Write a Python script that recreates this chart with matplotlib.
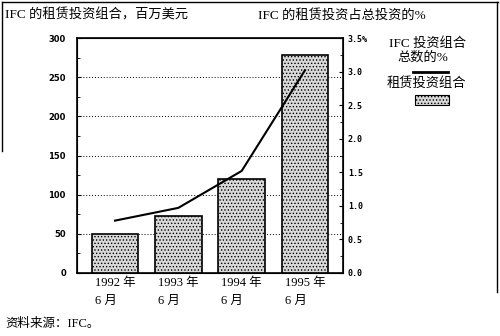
import matplotlib.pyplot as plt
import matplotlib.patches as mpatches
from matplotlib.lines import Line2D

plt.rcParams['font.family'] = ['Liberation Serif', 'Noto Sans CJK SC', 'DejaVu Sans']
plt.rcParams['hatch.linewidth'] = 0.6

# 数据
years = ['1992 年\n6 月', '1993 年\n6 月', '1994 年\n6 月', '1995 年\n6 月']
lease = [50, 73, 120, 278]          # 租赁投资组合，百万美元
share = [0.78, 0.97, 1.52, 3.02]    # 占总投资的 %
left_ticks = [0, 50, 100, 150, 200, 250, 300]
right_ticks = [0, 0.5, 1.0, 1.5, 2.0, 2.5, 3.0, 3.5]
right_labels = ['0.0', '0.5', '1.0', '1.5', '2.0', '2.5', '3.0', '3.5%']

fig = plt.figure(figsize=(5, 3.36), dpi=100)
ax = fig.add_axes([0.154, 0.1875, 0.532, 0.6994])
x = list(range(len(years)))

ax.bar(x, lease, width=0.74, color='#d9d9d9', edgecolor='black', hatch='.....', linewidth=1.2, zorder=3)
ax.set_xlim(-0.6, 3.6)
ax.set_ylim(0, 300)
ax.set_yticks(left_ticks)
ax.set_yticks(range(0, 301, 25), minor=True)
ax.tick_params(axis='y', which='both', direction='in', labelsize=6, length=3, pad=8)
ax.tick_params(axis='y', which='minor', length=2)
for lab in ax.get_yticklabels():
    lab.set_family('DejaVu Sans')
    lab.set_weight('bold')
for t in left_ticks[1:-1]:
    ax.axhline(t, color='black', lw=0.7, ls=(0, (1, 2)), zorder=1)
ax.set_xticks(x)
ax.set_xticklabels(years, fontsize=9, ha='center', multialignment='left', linespacing=1.6)
ax.tick_params(axis='x', length=0, pad=3)
for s in ax.spines.values():
    s.set_linewidth(1.2)

ax2 = ax.twinx()
ax2.plot(x, share, color='black', lw=1.5, zorder=4)
ax2.set_ylim(0, 3.5)
ax2.set_yticks(right_ticks)
ax2.set_yticklabels(right_labels)
ax2.set_yticks([i * 0.25 for i in range(15)], minor=True)
ax2.tick_params(axis='y', which='both', direction='in', labelsize=6, length=3)
ax2.tick_params(axis='y', which='minor', length=2)
for lab in ax2.get_yticklabels():
    lab.set_family('DejaVu Sans Mono')
    lab.set_weight('bold')

# 标题
fig.text(0.01, 0.955, 'IFC 的租赁投资组合，百万美元', fontsize=9.5, va='center')
fig.text(0.515, 0.955, 'IFC 的租赁投资占总投资的%', fontsize=9.5, va='center')

# 图例
fig.text(0.855, 0.872, 'IFC 投资组合', fontsize=9.5, ha='center', va='center')
fig.text(0.845, 0.83, '总数的%', fontsize=9.5, ha='center', va='center')
fig.add_artist(Line2D([0.826, 0.896], [0.786, 0.786], color='black', lw=2))
fig.text(0.852, 0.752, '租赁投资组合', fontsize=9.5, ha='center', va='center')
fig.add_artist(mpatches.Rectangle((0.83, 0.688), 0.068, 0.029, facecolor='#d9d9d9',
                                  edgecolor='black', hatch='.....', lw=0.8))

fig.text(0.01, 0.035, '资料来源：IFC。', fontsize=9, va='center')

# 外框
fig.add_artist(Line2D([0.004, 0.996], [0.993, 0.993], color='black', lw=1))
fig.add_artist(Line2D([0.004, 0.004], [0.993, 0.55], color='black', lw=1))
fig.add_artist(Line2D([0.994, 0.994], [0.993, 0.13], color='black', lw=1))

fig.savefig('out.png', dpi=100)
